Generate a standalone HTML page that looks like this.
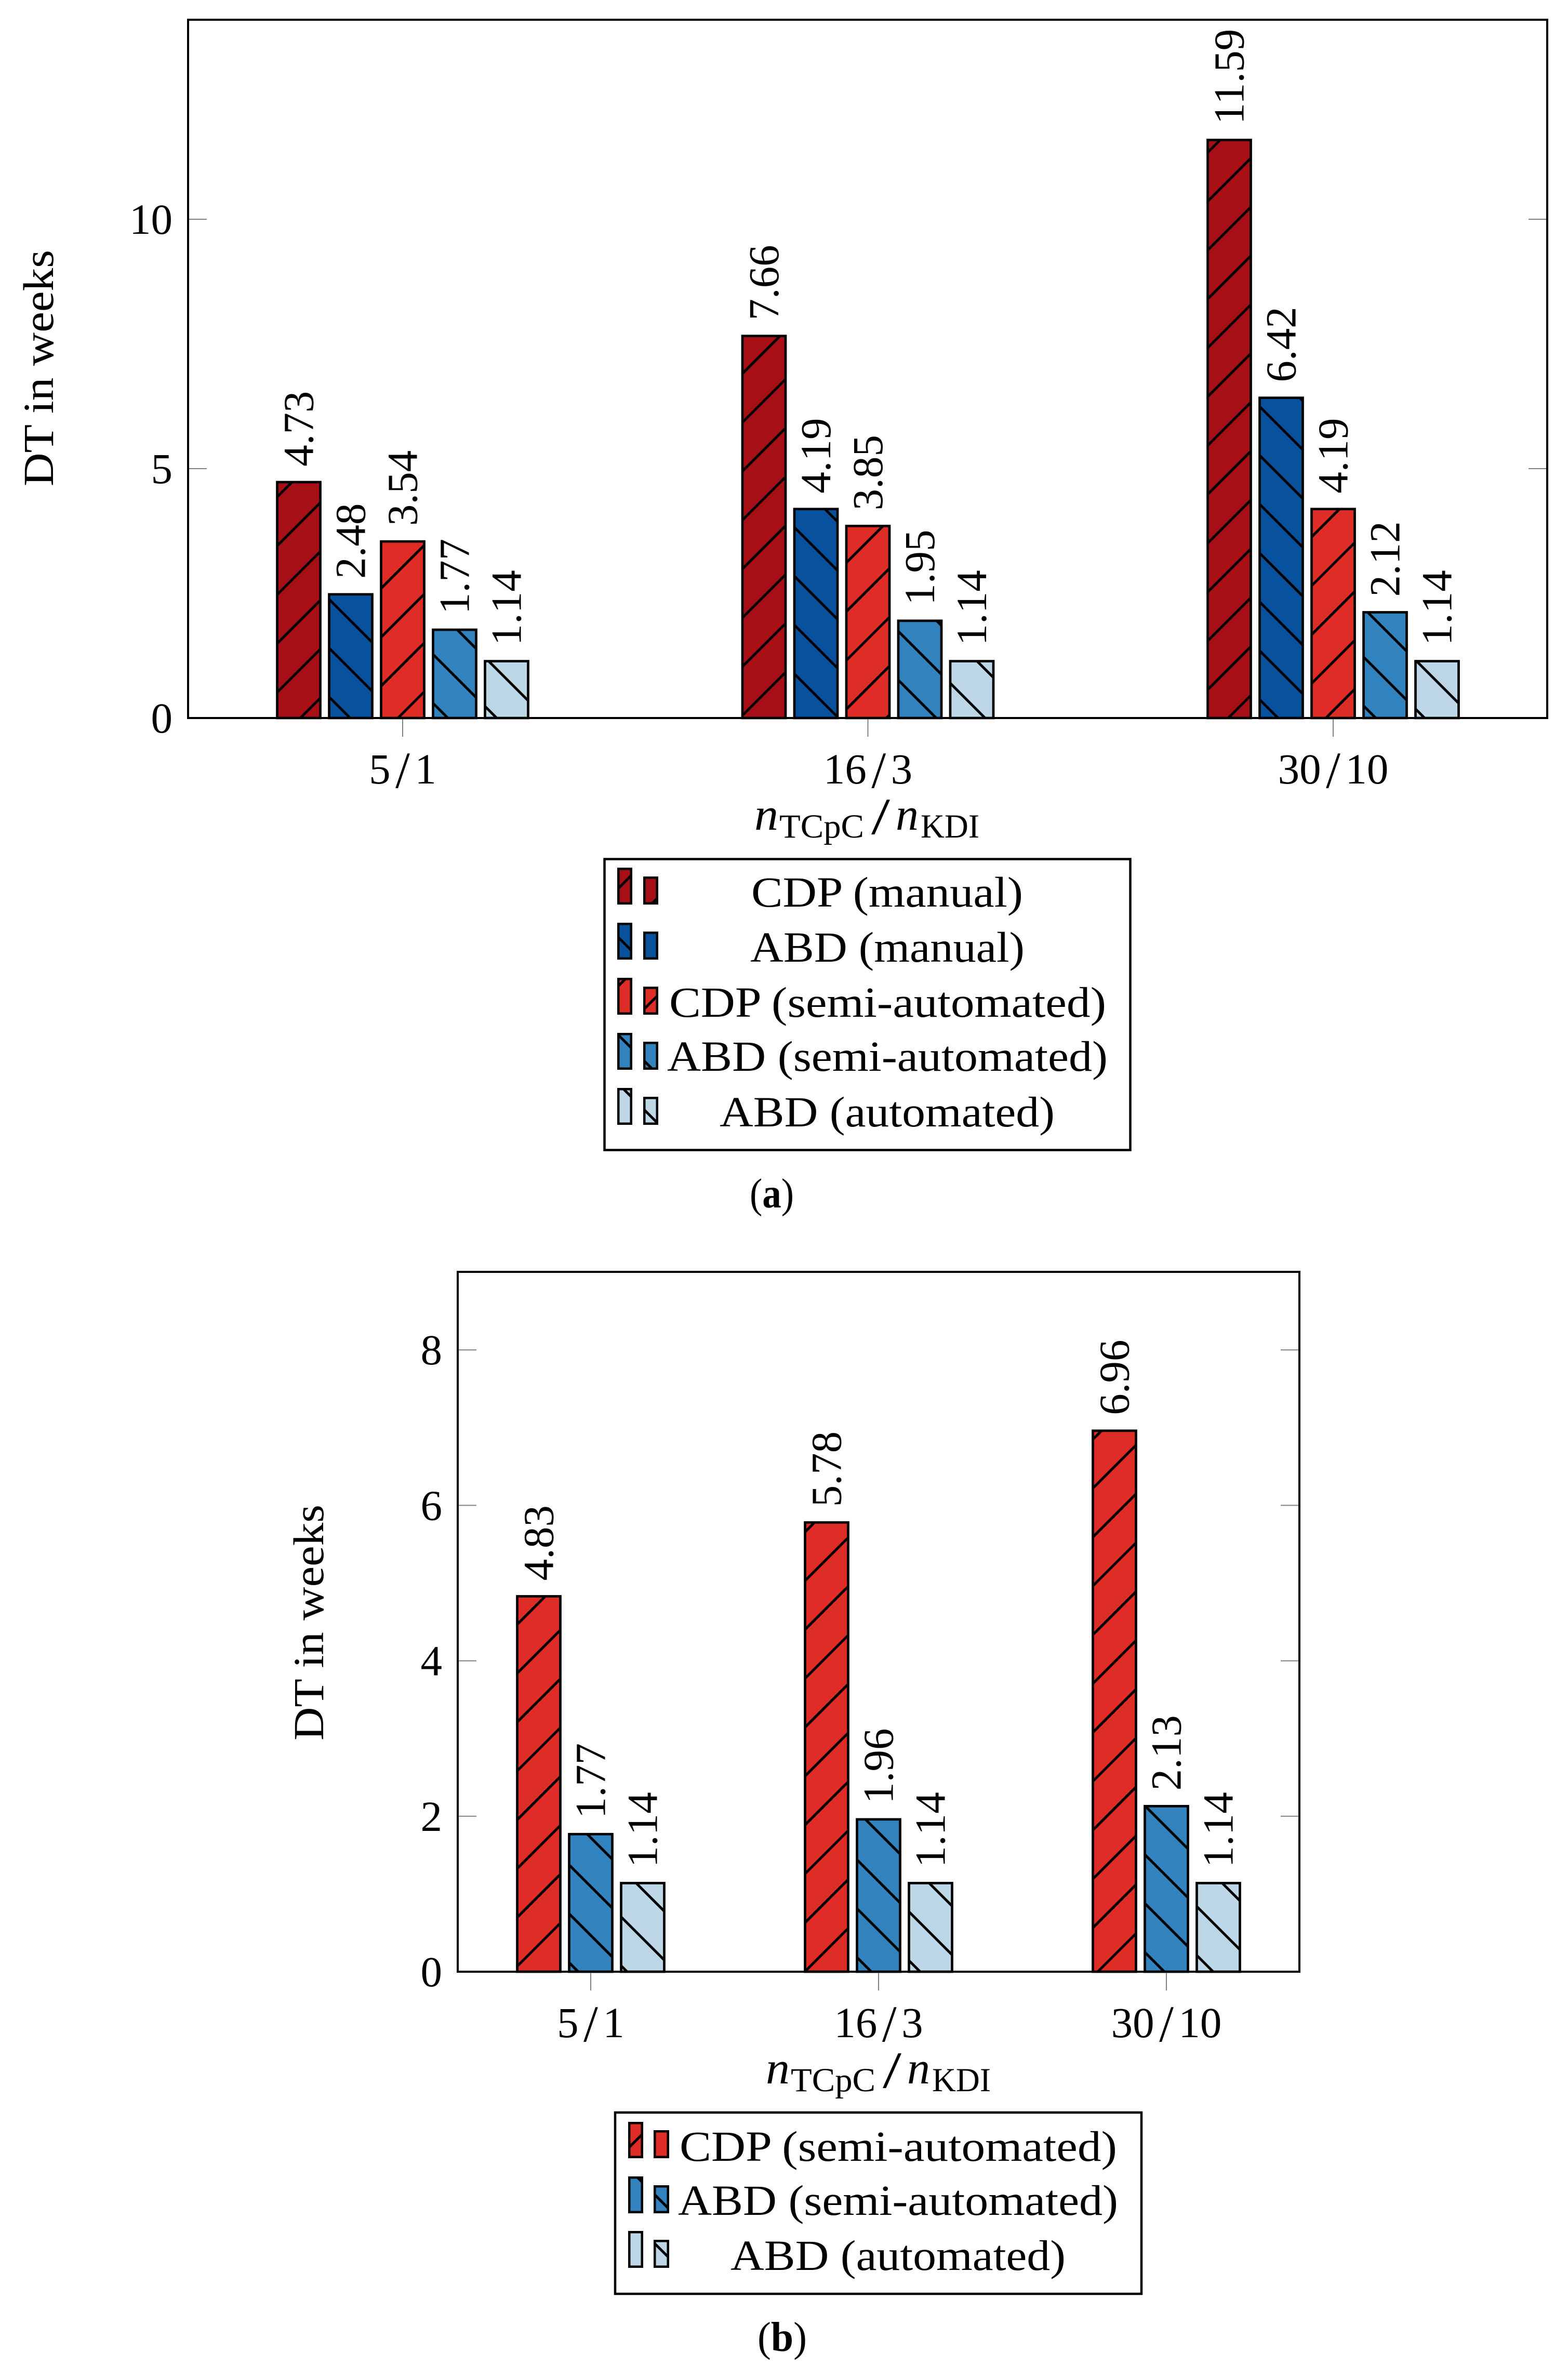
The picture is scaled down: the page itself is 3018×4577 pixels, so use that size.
<!DOCTYPE html>
<html lang="en">
<head>
<meta charset="utf-8">
<title>DT in weeks bar charts</title>
<style>
html,body{margin:0;padding:0;background:#fff}
svg{display:block}
text{font-family:"Liberation Serif",serif;font-size:83px;fill:#000}
</style>
</head>
<body>
<svg id="figure" xmlns="http://www.w3.org/2000/svg" width="3018" height="4577" viewBox="0 0 3018 4577">
<defs id="pattern-defs"></defs>
<rect width="3018" height="4577" fill="#fff"/>
<g id="chart-a"></g>
<g id="chart-b"></g>

<g>
<text x="1452" y="1597" font-style="italic" style="font-size:88px" textLength="46" lengthAdjust="spacingAndGlyphs">n</text>
<text x="1500" y="1612" style="font-size:65px" textLength="163" lengthAdjust="spacingAndGlyphs">TCpC</text>
<text x="1677" y="1605" style="font-size:100px" textLength="36" lengthAdjust="spacingAndGlyphs">/</text>
<text x="1724" y="1597" font-style="italic" style="font-size:88px" textLength="44" lengthAdjust="spacingAndGlyphs">n</text>
<text x="1772" y="1612" style="font-size:65px" textLength="113" lengthAdjust="spacingAndGlyphs">KDI</text>
</g>
<text transform="translate(102,936) rotate(-90)" textLength="455" lengthAdjust="spacingAndGlyphs">DT in weeks</text>

<g>
<rect x="1163.5" y="1653.5" width="1012" height="560" fill="#fff" stroke="#000" stroke-width="4.5"/>
<g>
<rect x="1190.25" y="1672.25" width="24.5" height="66.5" fill="url(#a-0)" stroke="#000" stroke-width="4.5"/>
<rect x="1240.25" y="1689.25" width="24.5" height="49.5" fill="url(#a-0)" stroke="#000" stroke-width="4.5"/>
<text x="1446" y="1745" textLength="523" lengthAdjust="spacingAndGlyphs">CDP (manual)</text>
</g>
<g>
<rect x="1190.25" y="1778.25" width="24.5" height="66.5" fill="url(#a-1)" stroke="#000" stroke-width="4.5"/>
<rect x="1240.25" y="1795.25" width="24.5" height="49.5" fill="url(#a-1)" stroke="#000" stroke-width="4.5"/>
<text x="1444" y="1851" textLength="528" lengthAdjust="spacingAndGlyphs">ABD (manual)</text>
</g>
<g>
<rect x="1190.25" y="1884.25" width="24.5" height="66.5" fill="url(#a-2)" stroke="#000" stroke-width="4.5"/>
<rect x="1240.25" y="1901.25" width="24.5" height="49.5" fill="url(#a-2)" stroke="#000" stroke-width="4.5"/>
<text x="1288" y="1957" textLength="841" lengthAdjust="spacingAndGlyphs">CDP (semi-automated)</text>
</g>
<g>
<rect x="1190.25" y="1990.25" width="24.5" height="66.5" fill="url(#a-3)" stroke="#000" stroke-width="4.5"/>
<rect x="1240.25" y="2007.25" width="24.5" height="49.5" fill="url(#a-3)" stroke="#000" stroke-width="4.5"/>
<text x="1284" y="2061" textLength="848" lengthAdjust="spacingAndGlyphs">ABD (semi-automated)</text>
</g>
<g>
<rect x="1190.25" y="2096.25" width="24.5" height="66.5" fill="url(#a-4)" stroke="#000" stroke-width="4.5"/>
<rect x="1240.25" y="2113.25" width="24.5" height="49.5" fill="url(#a-4)" stroke="#000" stroke-width="4.5"/>
<text x="1385" y="2168" textLength="645" lengthAdjust="spacingAndGlyphs">ABD (automated)</text>
</g>
</g>
<text x="1443" y="2324" style="font-size:80px" textLength="85" lengthAdjust="spacingAndGlyphs">(<tspan font-weight="bold">a</tspan>)</text>

<g>
<text x="1474" y="4010" font-style="italic" style="font-size:88px" textLength="46" lengthAdjust="spacingAndGlyphs">n</text>
<text x="1522" y="4025" style="font-size:65px" textLength="163" lengthAdjust="spacingAndGlyphs">TCpC</text>
<text x="1699" y="4018" style="font-size:100px" textLength="36" lengthAdjust="spacingAndGlyphs">/</text>
<text x="1746" y="4010" font-style="italic" style="font-size:88px" textLength="44" lengthAdjust="spacingAndGlyphs">n</text>
<text x="1794" y="4025" style="font-size:65px" textLength="113" lengthAdjust="spacingAndGlyphs">KDI</text>
</g>
<text transform="translate(622,3350) rotate(-90)" textLength="454" lengthAdjust="spacingAndGlyphs">DT in weeks</text>

<g>
<rect x="1184" y="4066" width="1013" height="349" fill="#fff" stroke="#000" stroke-width="4.5"/>
<g>
<rect x="1211.25" y="4086.25" width="24.5" height="65.5" fill="url(#b-0)" stroke="#000" stroke-width="4.5"/>
<rect x="1260.25" y="4102.25" width="25.5" height="49.5" fill="url(#b-0)" stroke="#000" stroke-width="4.5"/>
<text x="1308" y="4159" textLength="842" lengthAdjust="spacingAndGlyphs">CDP (semi-automated)</text>
</g>
<g>
<rect x="1211.25" y="4191.25" width="24.5" height="66.5" fill="url(#b-1)" stroke="#000" stroke-width="4.5"/>
<rect x="1260.25" y="4208.25" width="25.5" height="49.5" fill="url(#b-1)" stroke="#000" stroke-width="4.5"/>
<text x="1305" y="4263" textLength="847" lengthAdjust="spacingAndGlyphs">ABD (semi-automated)</text>
</g>
<g>
<rect x="1211.25" y="4296.25" width="24.5" height="66.5" fill="url(#b-2)" stroke="#000" stroke-width="4.5"/>
<rect x="1260.25" y="4313.25" width="25.5" height="49.5" fill="url(#b-2)" stroke="#000" stroke-width="4.5"/>
<text x="1406" y="4369" textLength="645" lengthAdjust="spacingAndGlyphs">ABD (automated)</text>
</g>
</g>
<text x="1458" y="4525" style="font-size:80px" textLength="95" lengthAdjust="spacingAndGlyphs">(<tspan font-weight="bold">b</tspan>)</text>
</svg>

<script>
// Chart data
const categories = ['5/1', '16/3', '30/10'];
const seriesAManualCdp = [4.73, 7.66, 11.59];
const seriesAManualAbd = [2.48, 4.19, 6.42];
const seriesASemiCdp = [3.54, 3.85, 4.19];
const seriesASemiAbd = [1.77, 1.95, 2.12];
const seriesAAutoAbd = [1.14, 1.14, 1.14];
const seriesBSemiCdp = [4.83, 5.78, 6.96];
const seriesBSemiAbd = [1.77, 1.96, 2.13];
const seriesBAutoAbd = [1.14, 1.14, 1.14];
const ticksA = [0, 5, 10];
const ticksB = [0, 2, 4, 6, 8];

const NS = 'http://www.w3.org/2000/svg';
const RED_DARK = '#a50f15', BLUE_DARK = '#08519c', RED = '#de2d26', BLUE = '#3182bd', BLUE_LIGHT = '#bdd7e7';
const PERIOD = 94, PHASE_NE = 80, PHASE_NW = 50;

function make(parent, tag, attrs, txt) {
  const el = document.createElementNS(NS, tag);
  for (const k in attrs) el.setAttribute(k, attrs[k]);
  if (txt !== undefined) el.textContent = txt;
  parent.appendChild(el);
  return el;
}

// Global hatch tiles: north-east lines satisfy x+y = c, north-west lines satisfy y-x = c.
function hatchPath(dir) {
  let d = '';
  for (let k = -2; k <= 3; k++) {
    if (dir === 'ne') {
      const c = PHASE_NE + k * PERIOD;
      d += 'M' + (c + PERIOD) + ' ' + (-PERIOD) + 'L' + (-PERIOD) + ' ' + (c + PERIOD);
    } else {
      const c = PHASE_NW + k * PERIOD;
      d += 'M' + (-PERIOD) + ' ' + (c - PERIOD) + 'L' + (2 * PERIOD) + ' ' + (c + 2 * PERIOD);
    }
  }
  return d;
}

function addPattern(id, color, dir) {
  const defs = document.getElementById('pattern-defs');
  const p = make(defs, 'pattern', { id: id, patternUnits: 'userSpaceOnUse', x: 0, y: 0, width: PERIOD, height: PERIOD });
  make(p, 'rect', { width: PERIOD, height: PERIOD, fill: color });
  make(p, 'path', { d: hatchPath(dir), stroke: '#000', 'stroke-width': 5, fill: 'none' });
}

function drawChart(cfg) {
  const root = document.getElementById(cfg.rootId);
  const yScale = v => cfg.y0 - v * cfg.unit;
  const xGroup = i => cfg.xFirst + i * cfg.groupStep;
  const n = cfg.series.length;
  const xBar = (i, s) => xGroup(i) + (s - (n - 1) / 2) * cfg.barStep;

  cfg.series.forEach((values, s) => {
    addPattern(cfg.prefix + '-' + s, cfg.colors[s], cfg.dirs[s]);
    values.forEach((v, i) => {
      const cx = xBar(i, s);
      const bar = make(root, 'rect', {
        x: cx - 41.5, y: yScale(v), width: 83, height: cfg.y0 - yScale(v),
        fill: 'url(#' + cfg.prefix + '-' + s + ')', stroke: '#000', 'stroke-width': 4.7
      });
      
      
      const lx = cx + 27.5, ly = yScale(v) - 30;
      const label = make(root, 'text', { transform: 'translate(' + lx + ',' + ly + ') rotate(-90)' }, v.toFixed(2));
      
      
    });
  });

  cfg.ticks.forEach(t => {
    const y = yScale(t);
    if (t !== 0) {
      const left = make(root, 'line', { x1: cfg.left, x2: cfg.left + 36, y1: y, y2: y, stroke: '#808080', 'stroke-width': 2 });
      
      
      const right = make(root, 'line', { x1: cfg.right - 36, x2: cfg.right, y1: y, y2: y, stroke: '#808080', 'stroke-width': 2 });
      
      
    }
    const tl = make(root, 'text', { x: cfg.left - 30, y: y + 28, 'text-anchor': 'end' }, String(t));
    
    
  });

  cfg.categories.forEach((c, i) => {
    const x = xGroup(i);
    const tick = make(root, 'line', { x1: x, x2: x, y1: cfg.y0, y2: cfg.y0 + 36, stroke: '#808080', 'stroke-width': 2 });
    
    
    const [a, b] = c.split('/');
    const tl = make(root, 'text', { x: x, y: cfg.y0 + 126, 'text-anchor': 'middle' });
    
    
    make(tl, 'tspan', {}, a);
    make(tl, 'tspan', { dx: 9.5, dy: 8, style: 'font-size:100px' }, '/');
    make(tl, 'tspan', { dx: 9.5, dy: -8 }, b);
  });

  const frame = make(root, 'rect', {
    x: cfg.left, y: cfg.top, width: cfg.right - cfg.left, height: cfg.y0 - cfg.top,
    fill: 'none', stroke: '#000', 'stroke-width': 4
  });
  
  
}

drawChart({
  rootId: 'chart-a', prefix: 'a', categories: categories,
  series: [seriesAManualCdp, seriesAManualAbd, seriesASemiCdp, seriesASemiAbd, seriesAAutoAbd],
  colors: [RED_DARK, BLUE_DARK, RED, BLUE, BLUE_LIGHT],
  dirs: ['ne', 'nw', 'ne', 'nw', 'nw'],
  ticks: ticksA,
  left: 362, right: 2978, top: 38, y0: 1382, unit: 96,
  xFirst: 775, groupStep: 895.5, barStep: 100
});
drawChart({
  rootId: 'chart-b', prefix: 'b', categories: categories,
  series: [seriesBSemiCdp, seriesBSemiAbd, seriesBAutoAbd],
  colors: [RED, BLUE, BLUE_LIGHT],
  dirs: ['ne', 'nw', 'nw'],
  ticks: ticksB,
  left: 881, right: 2501, top: 2448, y0: 3795, unit: 149.6,
  xFirst: 1137, groupStep: 554, barStep: 100
});
</script>
</body>
</html>
